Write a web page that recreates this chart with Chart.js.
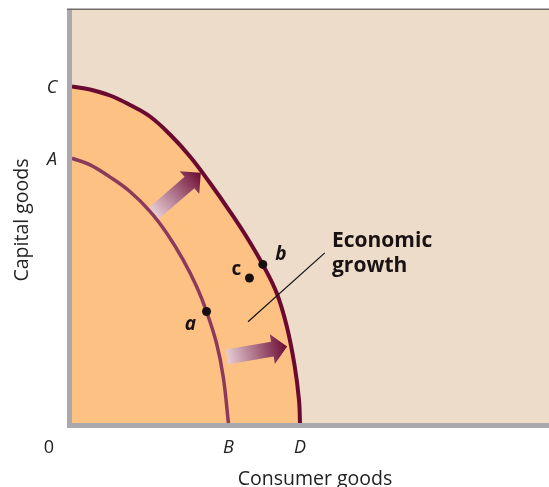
<!doctype html>
<html lang="en">
<head>
<meta charset="utf-8">
<title>Economic growth</title>
<style>
  html, body { margin: 0; padding: 0; background: #fff; }
</style>
</head>
<body>
<canvas id="myChart" width="549" height="487"></canvas>

<script src="https://cdn.jsdelivr.net/npm/chart.js"></script>
<script>
// values (x: consumer goods, y: capital goods, both 0-100)
var outerX = [0, 3.77, 7.97, 12.16, 16.35, 20.55, 24.74, 28.93, 33.12, 36.62, 40.04, 42.91, 45.01, 46.65, 47.59, 47.8];
var outerY = [81.5, 80.75, 79.3, 77.0, 74.21, 69.85, 64.53, 58.11, 51.21, 45.04, 38.26, 31.48, 23.49, 14.04, 5.57, 0];

var innerX = [0, 3.8, 7.9, 12.2, 16.4, 19.9, 23.3, 26.1, 28.2, 30.3, 31.7, 32.8];
var innerY = [64.1, 62.5, 59.6, 56.0, 51.2, 45.9, 39.5, 33.1, 27.0, 19.3, 11.2, 0];

var pointNames = ['a', 'b', 'c'];
var pointX = [28.2, 40.0, 37.2];
var pointY = [27.0, 38.4, 35.1];

var xTickLabels = ['B', 'D'];
var xTickValues = [32.8, 47.8];
var yTickLabels = ['A', 'C'];
var yTickValues = [64.1, 81.5];

// shift arrows: [tailX, tailY, tipX, tipY]
var arrows = [
    [17.2, 50.8, 27.0, 60.6],
    [32.5, 16.0, 45.1, 18.5]
];
// leader line for the "Economic growth" note
var leader = [53.0, 41.2, 36.9, 24.5];

function toPts(xs, ys) {
    return xs.map(function (x, i) { return { x: x, y: ys[i] }; });
}

var FONT = '"Open Sans", Lato, sans-serif';

function drawArrow(c, x0, y0, x1, y1) {
    var shaft = 15, headW = 30, headL = 15;
    var len = Math.hypot(x1 - x0, y1 - y0);
    c.save();
    c.translate(x0, y0);
    c.rotate(Math.atan2(y1 - y0, x1 - x0));
    var g = c.createLinearGradient(0, 0, len, 0);
    g.addColorStop(0, '#e6ccd3');
    g.addColorStop(1, '#6b0a32');
    c.fillStyle = g;
    c.beginPath();
    c.moveTo(0, -shaft / 2);
    c.lineTo(len - headL, -shaft / 2);
    c.lineTo(len - headL, -headW / 2);
    c.lineTo(len, 0);
    c.lineTo(len - headL, headW / 2);
    c.lineTo(len - headL, shaft / 2);
    c.lineTo(0, shaft / 2);
    c.closePath();
    c.fill();
    c.restore();
}

var ppfDecor = {
    id: 'ppfDecor',
    beforeDraw: function (chart) {
        var c = chart.ctx, a = chart.chartArea;
        c.save();
        c.fillStyle = '#ecdcc9';
        c.fillRect(a.left, a.top, a.right - a.left, a.bottom - a.top);
        c.restore();
    },
    afterDatasetsDraw: function (chart) {
        var c = chart.ctx, a = chart.chartArea;
        var xs = chart.scales.x, ys = chart.scales.y;
        c.save();

        // arrows
        arrows.forEach(function (ar) {
            drawArrow(c, xs.getPixelForValue(ar[0]), ys.getPixelForValue(ar[1]),
                xs.getPixelForValue(ar[2]), ys.getPixelForValue(ar[3]));
        });

        // leader line
        c.strokeStyle = '#111';
        c.lineWidth = 1.2;
        c.beginPath();
        c.moveTo(xs.getPixelForValue(leader[0]), ys.getPixelForValue(leader[1]));
        c.lineTo(xs.getPixelForValue(leader[2]), ys.getPixelForValue(leader[3]));
        c.stroke();

        // axes
        c.fillStyle = '#a9a9ad';
        c.fillRect(a.left - 5, a.top, 5, a.bottom - a.top + 5);
        c.fillRect(a.left - 5, a.bottom, a.right - a.left + 5, 5);
        c.fillStyle = '#736b68';
        c.fillRect(a.left - 5, a.top - 1.5, a.right - a.left + 5, 1.5);

        // point labels
        c.fillStyle = '#1a1212';
        c.textAlign = 'center';
        c.textBaseline = 'alphabetic';
        var off = { a: [-16, 19], b: [18, -4], c: [-13, -3] };
        pointNames.forEach(function (n, i) {
            c.font = (n === 'c' ? '' : 'italic ') + 'bold 19px ' + FONT;
            c.fillText(n, xs.getPixelForValue(pointX[i]) + off[n][0],
                ys.getPixelForValue(pointY[i]) + off[n][1]);
        });

        // note
        c.textAlign = 'left';
        c.font = 'bold 21px ' + FONT;
        c.fillText('Economic', 332, 247);
        c.fillText('growth', 332, 272);

        // tick letters
        c.fillStyle = '#222';
        c.textAlign = 'center';
        c.font = 'italic 18px ' + FONT;
        xTickLabels.forEach(function (t, i) {
            c.fillText(t, xs.getPixelForValue(xTickValues[i]), a.bottom + 30);
        });
        yTickLabels.forEach(function (t, i) {
            c.fillText(t, a.left - 20, ys.getPixelForValue(yTickValues[i]) + 7);
        });
        c.font = '18px ' + FONT;
        c.fillText('0', a.left - 23, a.bottom + 30);

        // axis titles
        c.font = '19.5px ' + FONT;
        c.fillText('Consumer goods', 315, 485);
        c.translate(28, 220);
        c.rotate(-Math.PI / 2);
        c.fillText('Capital goods', 0, 0);
        c.restore();
    }
};

var ctx = document.getElementById('myChart');
new Chart(ctx, {
    type: 'line',
    data: {
        datasets: [
            {
                label: 'Points',
                data: toPts(pointX, pointY),
                showLine: false,
                pointRadius: 4.5,
                pointBackgroundColor: '#1a0f0f',
                pointBorderWidth: 0,
                order: 1
            },
            {
                label: 'Original frontier',
                data: toPts(innerX, innerY),
                borderColor: '#8c3a5c',
                borderWidth: 3.5,
                pointRadius: 0,
                fill: false,
                tension: 0.4,
                order: 2
            },
            {
                label: 'New frontier',
                data: toPts(outerX, outerY),
                borderColor: '#6b0a30',
                borderWidth: 4,
                backgroundColor: '#fdc283',
                pointRadius: 0,
                fill: 'origin',
                tension: 0.4,
                order: 3
            }
        ]
    },
    options: {
        responsive: false,
        animation: false,
        layout: { autoPadding: false, padding: { left: 72, right: 0, top: 10, bottom: 64 } },
        scales: {
            x: { type: 'linear', min: 0, max: 100, display: false },
            y: { type: 'linear', min: 0, max: 100, display: false }
        },
        plugins: {
            legend: { display: false },
            tooltip: { enabled: false },
            filler: { drawTime: 'beforeDatasetsDraw' }
        }
    },
    plugins: [ppfDecor]
});
</script>
</body>
</html>
